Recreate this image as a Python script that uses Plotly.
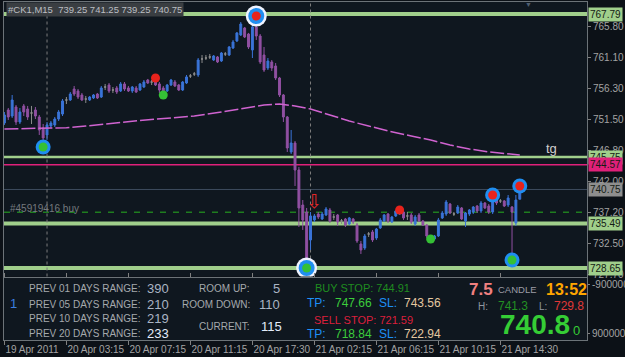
import plotly.graph_objects as go

# ---------------- data ----------------
bar_open = [751.00, 753.00, 752.07, 753.46, 751.15, 753.62, 753.15, 752.54, 753.00, 751.92,
            750.23, 749.15, 750.53, 750.69, 751.61, 752.38, 754.54, 754.54, 756.23, 755.93,
            755.31, 754.69, 754.54, 754.85, 755.46, 755.00, 756.54, 756.85, 756.08, 756.39,
            755.93, 757.01, 756.39, 755.93, 756.39, 756.08, 756.54, 757.62, 757.31, 757.47,
            757.01, 756.39, 755.93, 756.85, 757.31, 756.85, 756.08, 757.16, 758.24, 758.55,
            758.39, 760.86, 761.01, 761.17, 760.70, 761.17, 760.55, 761.63, 761.47, 762.55,
            763.63, 764.56, 765.64, 764.71, 762.25, 765.79, 764.40, 761.47, 759.47, 760.40,
            759.78, 757.93, 755.31, 751.92, 746.53, 747.91, 743.75, 738.36, 737.28, 732.97,
            736.05, 736.97, 736.20, 736.82, 737.59, 736.51, 736.82, 735.90, 736.20, 735.43,
            736.20, 735.28, 732.35, 731.73, 733.89, 734.20, 733.27, 734.82, 735.90, 736.97,
            735.74, 736.67, 736.97, 737.28, 736.67, 736.82, 735.43, 736.82, 735.90, 735.28,
            733.58, 733.12, 733.58, 736.36, 736.97, 738.51, 736.97, 737.13, 737.90, 735.90,
            736.97, 737.28, 738.20, 737.44, 738.67, 738.20, 737.28, 739.59, 738.98, 738.98,
            738.36, 738.05, 735.59, 739.25]
bar_high = [752.69, 753.31, 755.31, 753.77, 753.31, 753.92, 753.62, 753.62, 753.46, 752.23,
            750.84, 751.15, 751.30, 751.92, 753.00, 754.69, 755.00, 755.77, 756.70, 756.23,
            755.62, 755.16, 755.16, 755.46, 755.62, 756.70, 757.01, 757.16, 756.54, 756.70,
            757.31, 757.31, 756.70, 756.70, 756.70, 757.16, 757.62, 757.78, 757.62, 757.78,
            757.31, 756.70, 757.01, 757.78, 757.62, 757.01, 757.47, 758.39, 758.55, 758.86,
            761.01, 761.47, 761.47, 761.63, 761.47, 761.32, 761.94, 761.94, 762.86, 763.79,
            765.02, 766.56, 765.79, 764.87, 766.87, 767.79, 764.71, 762.71, 761.01, 760.70,
            760.24, 758.09, 755.46, 752.07, 749.92, 748.22, 744.22, 739.13, 737.90, 737.28,
            736.97, 737.28, 737.28, 738.05, 737.90, 736.97, 736.97, 736.20, 736.36, 736.51,
            736.36, 735.59, 732.81, 733.89, 734.20, 734.51, 734.82, 736.36, 736.97, 737.13,
            736.67, 737.59, 737.90, 737.44, 737.28, 737.13, 736.82, 737.13, 736.05, 735.43,
            733.74, 733.74, 736.36, 737.44, 739.13, 738.67, 737.28, 738.36, 738.05, 737.28,
            737.74, 738.20, 738.36, 738.98, 738.82, 738.51, 739.75, 739.75, 739.28, 739.13,
            739.90, 738.20, 739.90, 741.25]
bar_low = [750.69, 751.46, 751.77, 750.69, 750.84, 752.07, 751.46, 750.84, 751.61, 749.15,
           748.22, 748.38, 750.23, 750.38, 751.30, 752.07, 753.92, 754.39, 755.16, 754.69,
           754.39, 754.08, 754.39, 754.69, 754.69, 754.85, 756.08, 755.62, 755.62, 755.46,
           755.77, 755.93, 755.77, 755.62, 755.62, 755.93, 756.39, 757.01, 756.85, 756.70,
           755.62, 755.62, 755.77, 756.70, 756.54, 755.93, 755.93, 757.01, 757.93, 758.24,
           758.09, 760.24, 760.70, 760.86, 760.55, 760.24, 760.40, 761.32, 761.32, 762.40,
           763.48, 764.40, 764.09, 762.40, 761.01, 763.79, 760.09, 758.86, 759.16, 759.01,
           757.62, 755.00, 751.15, 746.53, 746.22, 741.29, 734.97, 734.51, 728.65, 731.43,
           735.74, 736.20, 736.05, 736.67, 735.59, 736.05, 735.12, 735.43, 734.97, 735.28,
           735.43, 732.51, 730.81, 731.43, 733.43, 732.66, 732.97, 734.66, 735.74, 735.59,
           735.59, 736.51, 736.82, 736.05, 736.05, 735.43, 735.12, 735.74, 735.12, 733.27,
           732.81, 732.97, 733.43, 736.20, 736.67, 736.97, 736.67, 736.97, 736.05, 734.97,
           736.67, 736.97, 737.13, 737.13, 737.74, 736.97, 736.97, 738.36, 738.67, 738.05,
           738.05, 729.80, 735.12, 739.25]
bar_close = [752.23, 751.92, 754.54, 751.15, 752.69, 752.69, 751.92, 752.54, 752.07, 749.92,
             748.69, 750.69, 751.00, 751.61, 752.69, 754.39, 754.54, 755.46, 755.46, 755.00,
             754.54, 754.69, 755.00, 755.31, 754.85, 756.39, 756.54, 755.93, 756.08, 755.77,
             757.01, 756.23, 755.93, 756.54, 755.77, 757.01, 757.31, 757.16, 757.31, 756.85,
             756.08, 755.93, 756.85, 757.62, 756.70, 756.08, 757.31, 758.09, 758.24, 758.55,
             760.70, 760.86, 761.01, 761.17, 761.32, 760.40, 761.78, 761.63, 762.71, 763.48,
             764.87, 766.25, 764.25, 762.71, 765.79, 764.40, 760.40, 759.16, 760.55, 759.47,
             757.93, 755.31, 751.92, 747.14, 747.91, 743.75, 737.90, 736.05, 729.58, 736.67,
             736.67, 736.51, 736.97, 737.74, 735.90, 736.51, 735.74, 735.90, 735.28, 736.36,
             735.74, 732.81, 731.43, 733.58, 733.89, 732.97, 734.66, 736.05, 736.82, 735.90,
             736.51, 737.44, 737.59, 736.36, 736.67, 735.74, 736.51, 735.90, 735.28, 733.58,
             733.12, 733.58, 736.05, 737.13, 738.82, 737.13, 736.97, 738.05, 736.20, 737.13,
             737.59, 738.05, 737.44, 738.67, 737.90, 737.28, 739.44, 738.67, 738.98, 738.20,
             739.44, 737.28, 739.13, 740.75]

ma_bar = [0, 11, 16, 21, 26, 32, 39, 43, 49, 56, 62, 67, 71, 75, 79, 84, 89, 94, 99, 105,
          110, 115, 120, 125, 133]
ma_val = [750.07, 750.23, 750.27, 750.53, 750.84, 751.15, 751.61, 751.77, 752.07, 752.69,
          753.31, 753.77, 753.92, 753.62, 753.15, 752.23, 751.30, 750.53, 749.77, 749.00,
          748.38, 747.60, 746.99, 746.53, 746.07]

sig_bar = [65, 10, 78, 39, 41, 102, 110, 126, 133, 131]
sig_price = [767.48, 747.30, 728.65, 757.93, 755.31, 737.59, 733.12, 739.90, 741.29, 729.88]
sig_kind = ["top", "ring_low", "bottom", "high", "low", "high", "low", "ring_high", "ring_high", "ring_low"]

level_green = [767.79, 745.75, 735.49, 728.65]
level_magenta = 744.57
bid_price = 740.75
order_price = 737.25
order_label = "#45919416 buy"
separator_bars = [11, 79]
arrow_bar, arrow_price = 80, 738.9

y_ticks = [765.80, 761.10, 756.30, 751.50, 746.80, 742.00, 737.20, 732.50, 727.70]
x_tick_bars = [0, 16, 32, 48, 64, 80, 96, 112, 128]
x_tick_labels = ["19 Apr 2011", "20 Apr 03:15", "20 Apr 07:15", "20 Apr 11:15", "20 Apr 17:30",
                 "21 Apr 02:15", "21 Apr 06:15", "21 Apr 10:15", "21 Apr 14:30"]

title_text = "#CK1,M15\u00a0\u00a0739.25 741.25 739.25 740.75"
range_labels = ["PREV 01 DAYS RANGE:", "PREV 05 DAYS RANGE:", "PREV 10 DAYS RANGE:", "PREV 20 DAYS RANGE:"]
range_values = ["390", "210", "219", "233"]
room_labels = ["ROOM UP:", "ROOM DOWN:", "CURRENT:"]
room_values = ["5", "110", "115"]
buy_stop, buy_tp, buy_sl = "744.91", "747.66", "743.56"
sell_stop, sell_tp, sell_sl = "721.59", "718.84", "722.94"
spread_val, candle_time = "7.5", "13:52"
day_high, day_low = "741.3", "729.8"
last_price, last_vol = "740.8", "0"
sub_ticks = [-9000000, 9000000]

# ---------------- geometry helpers ----------------
W, H = 625, 357
LM, RM, TM, BM = 4, 38, 2, 17
PW, PH = W - LM - RM, H - TM - BM


def fx(px):
    return (px - LM) / PW


def fy(py):
    return (H - BM - py) / PH


FONT = "Liberation Sans, Arial, sans-serif"
BLUE = "#3a74d8"
PURPLE = "#9150a2"
GRAY = "#8c8c8c"
GREEN_LVL = "#a0cf8b"
AXIS_TXT = "#a3a3a3"
BORDER = "#6c7378"

n = len(bar_open)
dj = [i for i in range(n) if bar_open[i] == bar_close[i]]
nd = [i for i in range(n) if bar_open[i] != bar_close[i]]

fig = go.Figure()


def candles(idx, inc, dec):
    return go.Candlestick(
        x=idx, open=[bar_open[i] for i in idx], high=[bar_high[i] for i in idx],
        low=[bar_low[i] for i in idx], close=[bar_close[i] for i in idx],
        increasing=dict(line=dict(color=inc, width=1), fillcolor=inc),
        decreasing=dict(line=dict(color=dec, width=1), fillcolor=dec),
        whiskerwidth=0, showlegend=False, hoverinfo="skip", xaxis="x", yaxis="y")


fig.add_trace(candles(nd, BLUE, PURPLE))
fig.add_trace(candles(dj, GRAY, GRAY))

fig.add_trace(go.Scatter(x=ma_bar, y=ma_val, mode="lines",
                         line=dict(color="#d063d0", width=1.5, dash="14px,3px"),
                         showlegend=False, hoverinfo="skip"))


def sig_trace(kinds, size, color):
    xs = [b for b, k in zip(sig_bar, sig_kind) if k in kinds]
    ys = [p for p, k in zip(sig_price, sig_kind) if k in kinds]
    return go.Scatter(x=xs, y=ys, mode="markers",
                      marker=dict(size=size, color=color, line=dict(width=0)),
                      showlegend=False, hoverinfo="skip")


fig.add_trace(sig_trace({"top", "bottom"}, 21, "#eef3ff"))
fig.add_trace(sig_trace({"top", "bottom"}, 16, "#1f8ef0"))
fig.add_trace(sig_trace({"ring_low", "ring_high"}, 15, "#1f8ef0"))
fig.add_trace(sig_trace({"top", "high", "ring_high"}, 9, "#e8231c"))
fig.add_trace(sig_trace({"bottom", "low", "ring_low"}, 9, "#35c035"))

# invisible trace to hold the sub-window
fig.add_trace(go.Scatter(x=[0], y=[0], mode="markers", marker=dict(opacity=0),
                         xaxis="x", yaxis="y2", showlegend=False, hoverinfo="skip"))

shapes = []
lvl_w = [4, 2.5, 4, 4]
for p, w in zip(level_green, lvl_w):
    shapes.append(dict(type="line", xref="paper", yref="y", x0=0, x1=1, y0=p, y1=p,
                       line=dict(color=GREEN_LVL, width=w), layer="below"))
shapes.append(dict(type="line", xref="paper", yref="y", x0=0, x1=1, y0=level_magenta, y1=level_magenta,
                   line=dict(color="#e0207a", width=1.5), layer="below"))
shapes.append(dict(type="line", xref="paper", yref="y", x0=0, x1=1, y0=bid_price, y1=bid_price,
                   line=dict(color="#3d4c5e", width=1), layer="below"))
shapes.append(dict(type="line", xref="paper", yref="y", x0=0, x1=1, y0=order_price, y1=order_price,
                   line=dict(color="#1f7d1f", width=1.5, dash="6px,7px"), layer="below"))
for b in separator_bars:
    shapes.append(dict(type="line", xref="x", yref="paper", x0=b, x1=b, y0=fy(276.5), y1=1,
                       line=dict(color="#7d7d7d", width=1, dash="3px,3px"), layer="below"))

ann = []


def txt(text, px, py, size, color, anchor="left", bold=False, **kw):
    t = "<b>%s</b>" % text if bold else text
    d = dict(text=t, xref="paper", yref="paper", x=fx(px), y=fy(py), xanchor=anchor,
             yanchor="middle", showarrow=False, font=dict(family=FONT, size=size, color=color))
    d.update(kw)
    ann.append(d)


# price boxes on right axis
box_specs = [(level_green[0], GREEN_LVL), (level_green[1], GREEN_LVL), (level_magenta, "#e0207a"),
             (bid_price, "#8e8e8e"), (level_green[2], GREEN_LVL), (level_green[3], GREEN_LVL)]
for p, c in box_specs:
    ann.append(dict(text="%.2f" % p, xref="paper", yref="y", x=1, y=p, xanchor="left", yanchor="middle",
                    xshift=1, showarrow=False, bgcolor=c, borderpad=1,
                    font=dict(family=FONT, size=10, color="#141c14")))

txt(title_text, 6, 9.5, 9.5, "#bcbfc2", bgcolor="#3a3e42", borderpad=1)
txt(order_label, 8, 208, 10, "#74797e")
txt("tg", 544, 148, 13, "#cfcfcf")
txt("\u25bc", 528, 4, 7, "#4e5e72", anchor="center")
ann.append(dict(text="\u21e9", xref="x", yref="y", x=arrow_bar, y=arrow_price, xanchor="center",
                yanchor="middle", showarrow=False, font=dict(family="DejaVu Sans", size=19, color="#e42828")))

# info panel
for i, (lab, val) in enumerate(zip(range_labels, range_values)):
    yy = [288, 304, 318, 333][i]
    txt(lab, 27, yy, 10, "#a5a9ad")
    txt(val, 145, yy + 0.5, 13, "#e3ecfa" if i == 3 else "#aab4c3")
txt("1", 8, 303, 13, "#3c7ee0")
room_y = [288, 304, 326]
room_vx = [271, 257, 259]
for lab, val, yy, vx in zip(room_labels, room_values, room_y, room_vx):
    txt(lab, 252, yy, 10, "#a5a9ad", anchor="right")
    txt(val, vx, yy, 13, "#e3ecfa" if lab == "CURRENT:" else "#aab4c3")

txt("BUY STOP: " + buy_stop, 313, 288, 11, "#1f8c1f")
txt("SELL STOP: " + sell_stop, 312, 320, 11, "#dc1f3c")
for yy, tp, sl in [(303, buy_tp, buy_sl), (334, sell_tp, sell_sl)]:
    txt("TP:", 305, yy, 12, "#1e8ff5")
    txt(tp, 333, yy, 12, "#3ccd3c")
    txt("SL:", 377, yy, 12, "#1e8ff5")
    txt(sl, 402, yy, 12, "#e4c8a0")

txt(spread_val, 467, 289, 17, "#f08080", bold=True)
txt("CANDLE", 496, 289, 9.5, "#9c9ca6")
txt(candle_time, 544, 289, 16, "#ffa600", bold=True)
txt("H:", 476, 306, 10, "#8f96a0")
txt(day_high, 496, 306, 12, "#239123")
txt("L:", 537, 306, 10, "#8f96a0")
txt(day_low, 552, 306, 12, "#e03838")
txt(last_price, 498, 324, 28, "#35cd35", bold=True)
txt(last_vol, 571, 330, 13, "#35cd35")

fig.update_layout(
    width=W, height=H, margin=dict(l=LM, r=RM, t=TM, b=BM, autoexpand=False),
    paper_bgcolor="#0c1117", plot_bgcolor="#0f171f",
    showlegend=False, shapes=shapes, annotations=ann,
    font=dict(family=FONT, size=10, color=AXIS_TXT),
    xaxis=dict(domain=[0, 1], range=[-0.103, 150.35], anchor="y2", showgrid=False, zeroline=False,
               showline=True, linecolor=BORDER, linewidth=1, mirror="all", automargin=False,
               tickmode="array", tickvals=x_tick_bars, ticktext=x_tick_labels, tickangle=0,
               ticks="outside", ticklen=4, tickcolor="#808080",
               ticklabelposition="outside right",
               tickfont=dict(family=FONT, size=10, color=AXIS_TXT),
               rangeslider=dict(visible=False), fixedrange=True),
    yaxis=dict(domain=[fy(276.5), 1], range=[727.34, 769.64], side="right", anchor="x",
               showgrid=False, zeroline=False, showline=True, linecolor=BORDER, mirror=True,
               automargin=False,
               tickmode="array", tickvals=y_ticks, ticktext=["%.2f" % v for v in y_ticks],
               ticks="outside", ticklen=3, tickcolor="#808080",
               tickfont=dict(family=FONT, size=10, color=AXIS_TXT), fixedrange=True),
    yaxis2=dict(domain=[0, fy(278)], range=[11.6e6, -11.6e6], side="right", anchor="x",
                showgrid=False, zeroline=False, showline=True, linecolor=BORDER, mirror=True,
                automargin=False,
                tickmode="array", tickvals=sub_ticks, ticktext=[str(v) for v in sub_ticks],
                ticks="outside", ticklen=2, tickcolor="#808080",
                tickfont=dict(family=FONT, size=10, color=AXIS_TXT), fixedrange=True),
)

fig.write_html("out.html")
